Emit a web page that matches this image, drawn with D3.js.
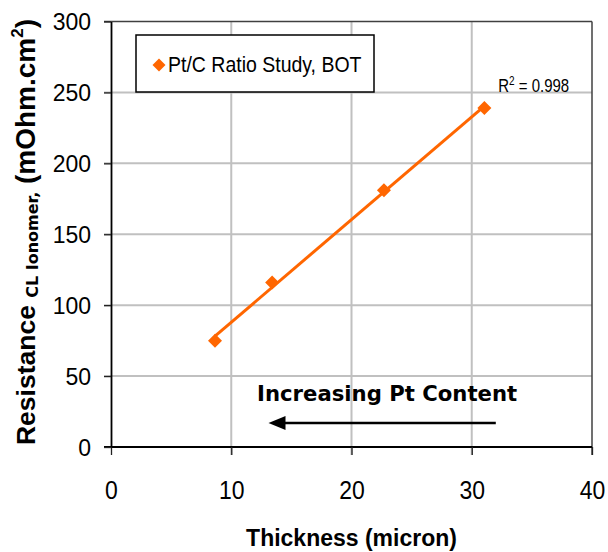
<!DOCTYPE html>
<html>
<head>
<meta charset="utf-8">
<script src="https://cdn.jsdelivr.net/npm/d3@7"></script>
<style>
  body { margin: 0; background: #fff; }
  svg { display: block; font-family: "Liberation Sans", Arial, sans-serif; }
</style>
</head>
<body>
<svg id="chart" width="608" height="552"></svg>
<script>
// data
const thickness = [8.65, 13.4, 22.7, 31.05];
const resistance = [75, 116, 181, 239];
const seriesName = "Pt/C Ratio Study, BOT";
const xTicks = [0, 10, 20, 30, 40];
const yTicks = [0, 50, 100, 150, 200, 250, 300];

const svg = d3.select("#chart");
const [x0, x1, y0, y1] = [111, 592, 447, 21.5];
const x = d3.scaleLinear().domain([0, 40]).range([x0, x1]);
const y = d3.scaleLinear().domain([0, 300]).range([y0, y1]);
const orange = "#ff6600";

// grid
svg.append("g")
  .selectAll("line.v")
  .data(xTicks.slice(1, -1))
  .join("line")
  .attr("x1", d => x(d)).attr("x2", d => x(d))
  .attr("y1", y1).attr("y2", y0 + 8)
  .attr("stroke", "#c0c0c0").attr("stroke-width", 2);
svg.append("g")
  .selectAll("line.h")
  .data(yTicks.slice(1, -1))
  .join("line")
  .attr("x1", x0 - 7).attr("x2", x1)
  .attr("y1", d => y(d)).attr("y2", d => y(d))
  .attr("stroke", "#c0c0c0").attr("stroke-width", 2);

// frame (top + right)
svg.append("line").attr("x1", x0 - 7).attr("x2", x1).attr("y1", y1).attr("y2", y1)
  .attr("stroke", "#404040").attr("stroke-width", 1.5);
svg.append("line").attr("x1", x1).attr("x2", x1).attr("y1", y1).attr("y2", y0 + 8)
  .attr("stroke", "#404040").attr("stroke-width", 1.5);

// axes
const xAxis = svg.append("g").attr("transform", `translate(0,${y0})`)
  .call(d3.axisBottom(x).tickValues(xTicks).tickSize(8).tickSizeOuter(0).tickPadding(0));
const yAxis = svg.append("g").attr("transform", `translate(${x0},0)`)
  .call(d3.axisLeft(y).tickValues(yTicks).tickSize(7).tickSizeOuter(0).tickPadding(0));
[xAxis, yAxis].forEach(g => {
  g.select(".domain").attr("stroke", "#000").attr("stroke-width", 1.8);
  g.selectAll(".tick line").attr("stroke", "#222").attr("stroke-width", 1.3);
  g.selectAll("text").attr("font-family", "Liberation Sans, Arial, sans-serif")
    .attr("font-size", 23).attr("fill", "#000");
});
xAxis.selectAll("text").attr("y", 0).attr("dy", 0)
  .attr("transform", "translate(0,52) scale(1,1.15)");
yAxis.selectAll("text").attr("x", 0).attr("dy", 0)
  .attr("transform", "translate(-20,8) scale(1,1.08)");
xAxis.select(".domain").attr("d", `M${x0 - 7},0H${x1}`);

// trend line (least squares)
const mx = d3.mean(thickness), my = d3.mean(resistance);
const slope = d3.sum(thickness, (t, i) => (t - mx) * (resistance[i] - my)) /
              d3.sum(thickness, t => (t - mx) ** 2);
const icpt = my - slope * mx;
const ext = d3.extent(thickness);
svg.append("path")
  .attr("d", d3.line()(ext.map(t => [x(t), y(icpt + slope * t)])))
  .attr("stroke", orange).attr("stroke-width", 3).attr("fill", "none");

const diamond = r => `M0,${-r}L${r},0L0,${r}L${-r},0Z`;
svg.append("g").selectAll("path")
  .data(thickness)
  .join("path")
  .attr("transform", (t, i) => `translate(${x(t)},${y(resistance[i])})`)
  .attr("d", diamond(7))
  .attr("fill", orange);

// R squared label
svg.append("text")
  .attr("transform", `translate(${x(32.2)},${y(250.5)}) scale(1,1.2)`)
  .attr("font-size", 15)
  .html('R<tspan dy="-6" font-size="10">2</tspan><tspan dy="6"> = 0.998</tspan>');

// legend
const lg = svg.append("g");
lg.append("rect").attr("x", 136).attr("y", 35).attr("width", 238).attr("height", 57)
  .attr("fill", "#fff").attr("stroke", "#000").attr("stroke-width", 1.5);
lg.append("path").attr("transform", "translate(159,65)").attr("d", diamond(6.5)).attr("fill", orange);
lg.append("text").attr("transform", "translate(168,72) scale(1,1.15)")
  .attr("font-size", 19.5).text(seriesName);

// annotation
svg.append("text")
  .attr("x", x(12.15)).attr("y", y(32.3))
  .attr("font-family", "DejaVu Sans, Verdana, sans-serif")
  .attr("font-weight", "bold").attr("font-size", 21.2)
  .text("Increasing Pt Content");
const ay = y(17);
svg.append("line").attr("x1", x(32)).attr("x2", x(13.1) + 12).attr("y1", ay).attr("y2", ay)
  .attr("stroke", "#000").attr("stroke-width", 2.5);
svg.append("path")
  .attr("d", `M${x(13.1)},${ay}L${x(13.1) + 17},${ay - 7}L${x(13.1) + 17},${ay + 7}Z`)
  .attr("fill", "#000");

// axis titles
svg.append("text")
  .attr("transform", `translate(${(x0 + x1) / 2},546) scale(1,1.08)`)
  .attr("text-anchor", "middle").attr("font-weight", "bold").attr("font-size", 23)
  .text("Thickness (micron)");

svg.append("text")
  .attr("transform", "translate(35,232) rotate(-90)")
  .attr("text-anchor", "middle").attr("font-weight", "bold").attr("font-size", 26.5)
  .style("white-space", "pre")
  .html('Resistance <tspan dy="3" font-size="16" font-family="DejaVu Sans, Verdana, sans-serif">CL Ionomer,</tspan>' +
        '<tspan dy="-3" font-size="28"> (mOhm.cm</tspan><tspan dy="-12" font-size="17">2</tspan><tspan dy="12" font-size="28">)</tspan>');
</script>
</body>
</html>
